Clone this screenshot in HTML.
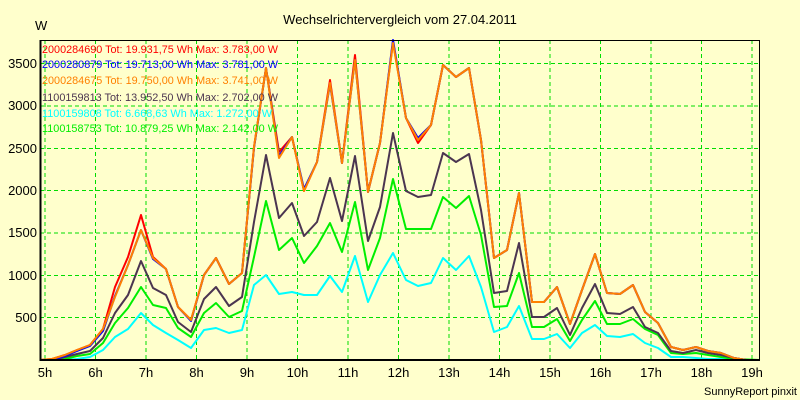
<!DOCTYPE html>
<html><head><meta charset="utf-8"><style>
html,body{margin:0;padding:0;background:#ffffcc;}
svg{display:block;font-family:"Liberation Sans",Arial,sans-serif;}
</style></head><body>
<svg width="800" height="400" viewBox="0 0 800 400" xmlns="http://www.w3.org/2000/svg">
<rect width="800" height="400" fill="#ffffcc"/>
<text x="400" y="24" font-size="13" text-anchor="middle">Wechselrichtervergleich vom 27.04.2011</text>
<text x="35" y="30" font-size="13">W</text>
<g stroke="#00dd00" stroke-width="1" stroke-dasharray="4,3" fill="none">
<path d="M95.5 40V360M146 40V360M196.5 40V360M247 40V360M297.5 40V360M348 40V360M398.5 40V360M449 40V360M499.5 40V360M550 40V360M600.5 40V360M651 40V360M701.5 40V360M752 40V360M45 40V360"/>
<path d="M40 317.5H759M40 275.5H759M40 233H759M40 190.5H759M40 148.5H759M40 106H759M40 63.5H759"/>
</g>
<g font-size="13" text-anchor="end">
<text x="37" y="322">500</text><text x="37" y="280">1000</text><text x="37" y="237">1500</text><text x="37" y="195">2000</text><text x="37" y="153">2500</text><text x="37" y="110">3000</text><text x="37" y="68">3500</text>
</g>
<g font-size="13" text-anchor="middle">
<text x="45" y="377">5h</text><text x="95.5" y="377">6h</text><text x="146" y="377">7h</text><text x="196.5" y="377">8h</text><text x="247" y="377">9h</text><text x="297.5" y="377">10h</text><text x="348" y="377">11h</text><text x="398.5" y="377">12h</text><text x="449" y="377">13h</text><text x="499.5" y="377">14h</text><text x="550" y="377">15h</text><text x="600.5" y="377">16h</text><text x="651" y="377">17h</text><text x="701.5" y="377">18h</text><text x="752" y="377">19h</text>
</g>
<text x="797" y="395" font-size="11" text-anchor="end">SunnyReport pinxit</text>
<g fill="none" stroke-width="2" stroke-linejoin="round">
<polyline stroke="#00ffff" points="40,360 52,360 65,360 77,359 90,357 103,350 115,337 128,329 141,313 153,325 166,333 178,340 191,348 204,330 216,328 229,333 242,330 254,285 266,275 279,294 292,292 304,295 317,295 330,276 342,292 355,256 368,302 380,275 393,253 406,280 418,286 431,283 443,258 456,270 469,256 481,287 494,332 507,327 519,306 532,339 544,339 557,334 570,348 582,333 595,325 607,336 620,337 633,334 645,343 658,348 671,357 683,357 696,358 708,359 721,359 734,360 760,360"/>
<polyline stroke="#00ee00" points="40,360 52,360 65,359 77,356 90,354 103,343 115,323 128,308 141,287 153,305 166,308 178,328 191,337 204,313 216,303 229,317 242,311 254,257 266,201 279,250 292,238 304,263 317,246 330,223 342,252 355,202 368,270 380,238 393,179 406,229 418,229 431,229 443,197 456,208 469,196 481,235 494,307 507,306 519,273 532,327 544,327 557,319 570,341 582,320 595,301 607,324 620,324 633,319 645,329 658,335 671,353 683,354 696,353 708,355 721,357 734,359 760,360"/>
<polyline stroke="#4b3550" points="40,360 52,360 65,357 77,354 90,351 103,338 115,313 128,295 141,261 153,288 166,295 178,322 191,332 204,299 216,287 229,306 242,297 254,222 266,155 279,218 292,203 304,236 317,222 330,178 342,221 355,156 368,241 380,207 393,133 406,191 418,197 431,195 443,153 456,162 469,154 481,210 494,293 507,291 519,243 532,317 544,317 557,308 570,335 582,308 595,284 607,313 620,314 633,307 645,327 658,333 671,351 683,353 696,350 708,353 721,355 734,358 746,360 760,360"/>
<polyline stroke="#ff0000" points="40,360 52,359 65,355 77,350 90,345 103,329 115,287 128,257 141,215 153,257 166,269 178,307 191,320 204,275 216,258 229,284 242,273 254,147 266,68 279,152 292,137 304,191 317,162 330,80 342,163 355,55 368,192 380,143 393,42 406,118 418,143 431,125 443,65 456,77 469,68 481,140 494,258 507,250 519,193 532,302 544,302 557,287 570,324 582,290 595,254 607,293 620,294 633,285 645,312 658,323 671,347 683,350 696,347 708,351 721,353 734,358 746,360 760,360"/>
<polyline stroke="#0000ff" points="40,360 52,360 65,356 77,351 90,346 103,331 115,296 128,265 141,230 153,259 166,269 178,307 191,321 204,275 216,258 229,284 242,273 254,148 266,68 279,156 292,137 304,189 317,162 330,84 342,163 355,60 368,192 380,143 393,40 406,118 418,138 431,125 443,65 456,77 469,68 481,140 494,258 507,250 519,193 532,302 544,302 557,287 570,324 582,290 595,254 607,293 620,294 633,285 645,312 658,323 671,347 683,350 696,347 708,351 721,353 734,358 746,360 760,360"/>
<polyline stroke="#ff8000" points="40,360 52,359 65,355 77,350 90,345 103,329 115,297 128,265 141,230 153,258 166,269 178,307 191,320 204,275 216,258 229,284 242,273 254,147 266,68 279,158 292,137 304,191 317,162 330,83 342,163 355,60 368,192 380,143 393,43 406,118 418,140 431,125 443,65 456,77 469,68 481,140 494,258 507,250 519,193 532,302 544,302 557,287 570,324 582,290 595,254 607,293 620,294 633,285 645,312 658,323 671,347 683,350 696,347 708,351 721,353 734,358 746,360"/>
</g>
<g font-size="11">
<text x="42" y="53" fill="#ff0000" textLength="236" lengthAdjust="spacingAndGlyphs">2000284690 Tot: 19.931,75 Wh Max: 3.783,00 W</text>
<text x="42" y="68" fill="#0000ff" textLength="236" lengthAdjust="spacingAndGlyphs">2000280879 Tot: 19.713,00 Wh Max: 3.781,00 W</text>
<text x="42" y="84" fill="#ff8000" textLength="236" lengthAdjust="spacingAndGlyphs">2000284675 Tot: 19.750,00 Wh Max: 3.741,00 W</text>
<text x="42" y="101" fill="#4b3550" textLength="236" lengthAdjust="spacingAndGlyphs">1100159813 Tot: 13.952,50 Wh Max: 2.702,00 W</text>
<text x="42" y="117" fill="#00ffff" textLength="230" lengthAdjust="spacingAndGlyphs">1100159808 Tot: 6.668,63 Wh Max: 1.272,00 W</text>
<text x="42" y="132" fill="#00ee00" textLength="236" lengthAdjust="spacingAndGlyphs">1100158753 Tot: 10.879,25 Wh Max: 2.142,00 W</text>
</g>
<rect x="40.5" y="40.5" width="719" height="319.5" fill="none" stroke="#000" stroke-width="1"/>
<line x1="40.5" y1="40" x2="40.5" y2="361" stroke="#000" stroke-width="2"/>
<line x1="40" y1="360" x2="760" y2="360" stroke="#000" stroke-width="2"/>
</svg>
</body></html>
